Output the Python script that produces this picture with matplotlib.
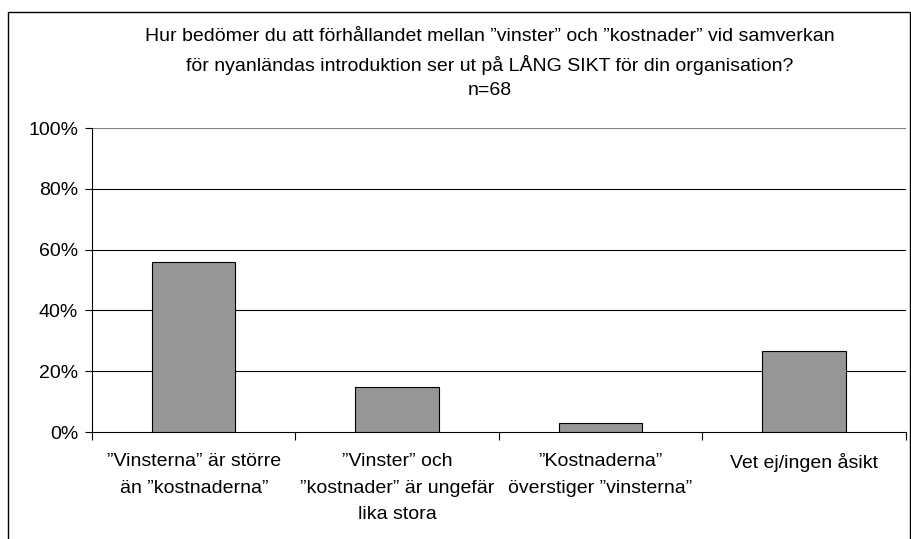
import matplotlib.pyplot as plt
from matplotlib.patches import Rectangle
from matplotlib.ticker import FuncFormatter

# Data
categories = ['\u201dVinsterna\u201d är större\nän \u201dkostnaderna\u201d',
              '\u201dVinster\u201d och\n\u201dkostnader\u201d är ungefär\nlika stora',
              '\u201dKostnaderna\u201d\növerstiger \u201dvinsterna\u201d',
              'Vet ej/ingen åsikt']
values = [55.9, 14.7, 2.9, 26.5]
yticks = [0, 20, 40, 60, 80, 100]

plt.rcParams['font.family'] = ['Liberation Sans', 'DejaVu Sans']

fig = plt.figure(figsize=(9.12, 5.39), dpi=100)
ax = fig.add_axes([0.101, 0.1985, 0.892, 0.564])

x = list(range(len(categories)))
ax.bar(x, values, width=0.41, color='#969696', edgecolor='black', linewidth=0.8, zorder=3)

ax.set_xlim(-0.5, len(categories) - 0.5)
ax.set_ylim(0, 100)
ax.set_yticks(yticks)
ax.yaxis.set_major_formatter(FuncFormatter(lambda v, p: f'{v:.0f}%'))
for t in yticks[1:]:
    ax.axhline(t, color='#808080' if t == 100 else 'black', linewidth=0.8, zorder=1)

# ticks between categories
ax.set_xticks([i - 0.5 for i in range(len(categories) + 1)])
ax.set_xticklabels([])
ax.set_xticks(x, minor=True)
ax.set_xticklabels(categories, minor=True, fontsize=14, linespacing=1.75)
ax.tick_params(axis='x', which='minor', length=0, pad=15)
ax.tick_params(axis='x', which='major', length=6, direction='out', width=0.8)
ax.tick_params(axis='y', length=5, direction='out', width=0.8, labelsize=14, pad=5)

for s in ['top', 'right']:
    ax.spines[s].set_visible(False)
ax.spines['left'].set_linewidth(0.8)
ax.spines['bottom'].set_linewidth(0.8)

fig.text(0.537, 0.948,
         'Hur bedömer du att förhållandet mellan \u201dvinster\u201d och \u201dkostnader\u201d vid samverkan\n'
         'för nyanländas introduktion ser ut på LÅNG SIKT för din organisation?\nn=68',
         ha='center', va='top', fontsize=14, linespacing=1.6)

# outer frame
fig.patches.append(Rectangle((0.009, -0.01), 0.989, 0.988, transform=fig.transFigure,
                             fill=False, edgecolor='black', linewidth=1.0))

fig.savefig('out.png', dpi=100)
plt.close(fig)
